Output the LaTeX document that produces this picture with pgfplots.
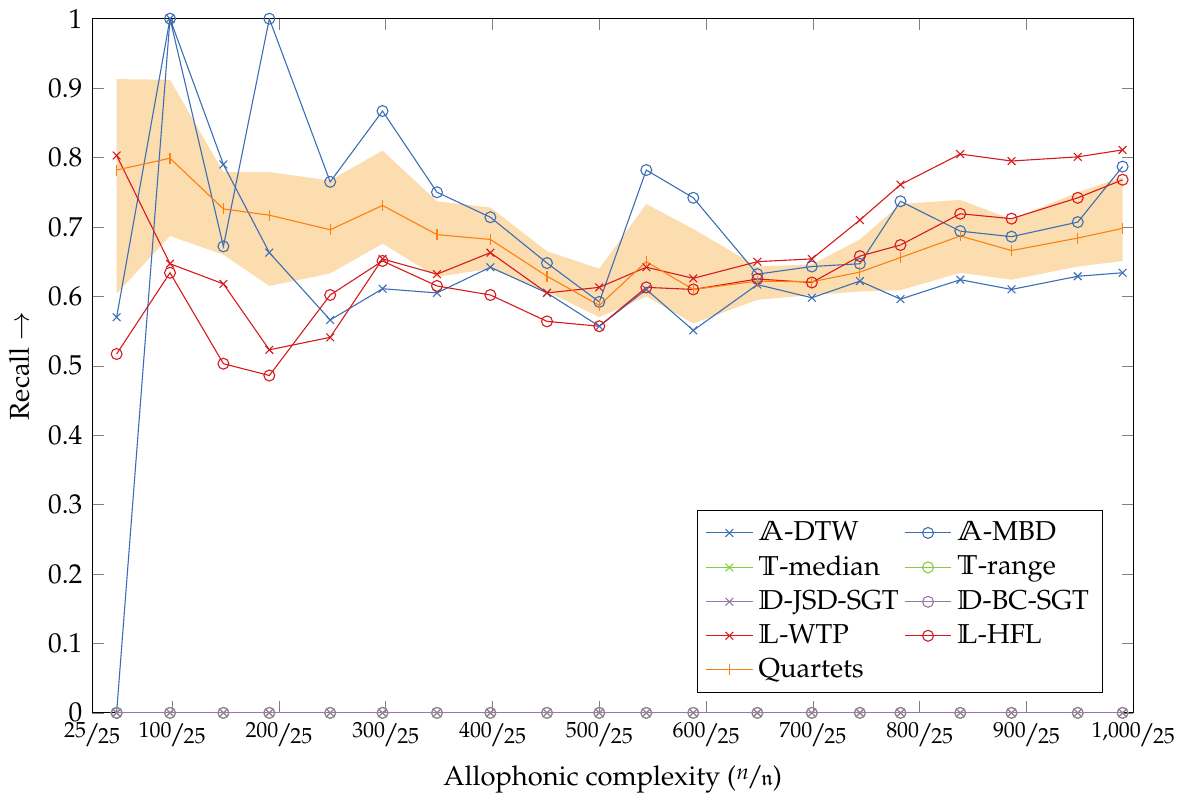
\documentclass[border=0pt]{standalone}
\usepackage[T1]{fontenc}
\usepackage{mathpazo}
\usepackage{amssymb}
\usepackage{pgfplots}
\usepackage{pgfplotstable}
\pgfplotsset{compat=1.18}
\usepgfplotslibrary{fillbetween}

\definecolor{cblue}{RGB}{59,110,180}
\definecolor{cred}{RGB}{215,25,28}
\definecolor{corange}{RGB}{255,127,14}
\definecolor{cgreen}{RGB}{127,209,59}
\definecolor{cpurple}{RGB}{152,120,165}
\definecolor{bandfill}{RGB}{251,221,176}

\newcommand{\sfr}[2]{\raisebox{.45ex}{\footnotesize #1}\kern-.08em/\kern-.08em{\footnotesize #2}}

% recall per allophonic complexity; lo/hi = quartets band
\pgfplotstableread{
x   adtw  ambd  zero lwtp  lhfl  quart lo    hi
48  0.570 0.000 0 0.803 0.517 0.782 0.604 0.913
98  1.000 1.000 0 0.647 0.634 0.799 0.687 0.912
148 0.790 0.672 0 0.618 0.503 0.726 0.660 0.779
191 0.663 1.000 0 0.523 0.486 0.717 0.615 0.779
248 0.566 0.765 0 0.541 0.602 0.696 0.633 0.767
297 0.611 0.867 0 0.654 0.651 0.731 0.676 0.810
348 0.605 0.750 0 0.632 0.615 0.689 0.628 0.737
398 0.642 0.714 0 0.663 0.602 0.682 0.640 0.728
451 0.605 0.648 0 0.605 0.564 0.629 0.607 0.665
500 0.557 0.592 0 0.613 0.557 0.587 0.570 0.640
544 0.610 0.782 0 0.642 0.613 0.650 0.600 0.733
588 0.551 0.742 0 0.626 0.610 0.610 0.561 0.697
648 0.617 0.632 0 0.650 0.625 0.622 0.595 0.643
699 0.598 0.643 0 0.654 0.620 0.621 0.602 0.646
744 0.622 0.647 0 0.710 0.658 0.635 0.607 0.682
782 0.596 0.737 0 0.761 0.674 0.656 0.609 0.733
838 0.624 0.694 0 0.805 0.719 0.687 0.634 0.739
886 0.610 0.686 0 0.795 0.712 0.666 0.624 0.711
948 0.629 0.707 0 0.801 0.742 0.684 0.643 0.750
990 0.634 0.787 0 0.811 0.768 0.698 0.651 0.772
}\data

\begin{document}
\begin{tikzpicture}
\begin{axis}[
  scale only axis,
  width=381pt, height=254pt,
  xmin=25, xmax=1000,
  ymin=0, ymax=1,
  xtick={25,100,200,300,400,500,600,700,800,900,1000},
  xticklabels={{\sfr{25}{25}},{\sfr{100}{25}},{\sfr{200}{25}},{\sfr{300}{25}},{\sfr{400}{25}},{\sfr{500}{25}},{\sfr{600}{25}},{\sfr{700}{25}},{\sfr{800}{25}},{\sfr{900}{25}},{\sfr{1,000}{25}}},
  ytick={0,0.1,...,1},
  yticklabel style={/pgf/number format/fixed},
  xlabel={Allophonic complexity (\sfr{$n$}{$\mathfrak{n}$})},
  ylabel={Recall $\rightarrow$},
  legend columns=2,
  legend cell align=left,
  legend style={at={(0.971,0.029)}, anchor=south east},
]
\addplot[draw=none, name path=hi, forget plot] table[x=x, y=hi] {\data};
\addplot[draw=none, name path=lo, forget plot] table[x=x, y=lo] {\data};
\addplot[bandfill, forget plot] fill between[of=hi and lo];

\addplot[cblue, mark=x] table[x=x, y=adtw] {\data};
\addlegendentry{$\mathbb{A}$-DTW}
\addplot[cblue, mark=o] table[x=x, y=ambd] {\data};
\addlegendentry{$\mathbb{A}$-MBD}
\addplot[cgreen, mark=x] table[x=x, y=zero] {\data};
\addlegendentry{$\mathbb{T}$-median}
\addplot[cgreen, mark=o] table[x=x, y=zero] {\data};
\addlegendentry{$\mathbb{T}$-range}
\addplot[cpurple, mark=x] table[x=x, y=zero] {\data};
\addlegendentry{$\mathbb{D}$-JSD-SGT}
\addplot[cpurple, mark=o] table[x=x, y=zero] {\data};
\addlegendentry{$\mathbb{D}$-BC-SGT}
\addplot[cred, mark=x] table[x=x, y=lwtp] {\data};
\addlegendentry{$\mathbb{L}$-WTP}
\addplot[cred, mark=o] table[x=x, y=lhfl] {\data};
\addlegendentry{$\mathbb{L}$-HFL}
\addplot[corange, mark=|] table[x=x, y=quart] {\data};
\addlegendentry{Quartets}
\end{axis}
\end{tikzpicture}
\end{document}
